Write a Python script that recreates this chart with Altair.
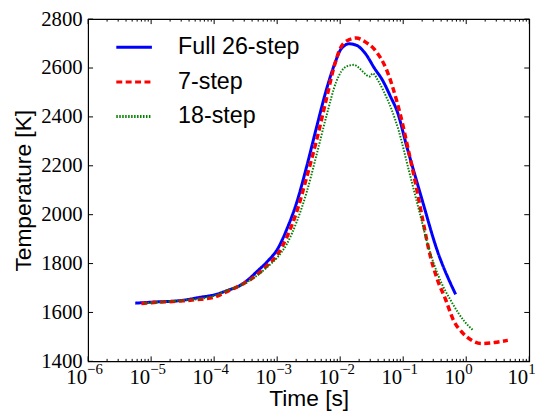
import altair as alt
import pandas as pd

# ---------------- data ----------------
series_names = ["Full 26-step", "7-step", "18-step"]
series_colors = ["#0000ff", "#ff0000", "#008000"]
series_dashes = [[1, 0], [6, 3.5], [1.5, 1.5]]
series_widths = [3, 3.5, 2]

full_t = [5.6e-6, 1e-5, 3e-5, 6e-5, 1e-4, 1.8e-4, 2.4e-4, 5.19e-4, 7.2e-4, 1e-3, 1.43e-3,
          2.05e-3, 2.94e-3, 4.23e-3, 6.07e-3, 8.1e-3, 1.04e-2, 1.39e-2, 1.78e-2,
          2.5e-2, 3.5e-2, 4.7e-2, 6.3e-2, 8.1e-2, 0.115, 0.132, 0.2, 0.34, 0.68]
full_T = [1638, 1642, 1649, 1662, 1672, 1694, 1706, 1776, 1812, 1857, 1942,
          2051, 2197, 2359, 2513, 2614, 2679, 2699, 2694,
          2660, 2599, 2550, 2483, 2420, 2275, 2221, 2060, 1860, 1674]

seven_t = [7e-6, 1e-5, 3e-5, 6e-5, 1e-4, 1.15e-4, 1.8e-4, 2.4e-4, 5.19e-4, 7.2e-4, 1e-3,
           1.43e-3, 2.05e-3, 2.94e-3, 4.23e-3, 6.07e-3, 8.1e-3, 1.04e-2, 1.39e-2,
           1.8e-2, 2.5e-2, 3.5e-2, 5.6e-2, 7.9e-2, 9.1e-2, 0.123, 0.158, 0.2, 0.27,
           0.347, 0.468, 0.631, 0.851, 1.22, 1.74, 2.82, 4.57]
seven_T = [1637, 1640, 1647, 1654, 1662, 1668, 1692, 1706, 1762, 1796, 1835,
           1910, 2013, 2153, 2306, 2476, 2610, 2688, 2716,
           2723, 2707, 2676, 2585, 2465, 2405, 2255, 2125, 1990, 1830,
           1736, 1655, 1567, 1520, 1486, 1473, 1477, 1486]

eighteen_t = [7.9e-6, 3e-5, 6e-5, 1e-4, 1.8e-4, 2.4e-4, 5.19e-4, 7.2e-4, 1e-3, 1.43e-3, 2.05e-3,
              2.94e-3, 4.23e-3, 6.07e-3, 8.7e-3, 1.25e-2, 1.67e-2, 2.0e-2, 2.4e-2,
              2.9e-2, 3.3e-2, 4.0e-2, 4.9e-2, 8.5e-2, 0.123, 0.178, 0.257, 0.363,
              0.589, 0.955, 1.29]
eighteen_T = [1638, 1649, 1656, 1668, 1695, 1706, 1758, 1789, 1824, 1881, 1972,
              2092, 2246, 2405, 2545, 2606, 2613, 2600, 2580,
              2565, 2578, 2548, 2505, 2343, 2181, 2019, 1860, 1749,
              1642, 1561, 1527]

x_major = [1e-6, 1e-5, 1e-4, 1e-3, 1e-2, 1e-1, 1e0, 1e1]
x_exponents = ["\u22126", "\u22125", "\u22124", "\u22123", "\u22122", "\u22121", "0", "1"]
x_minor = [m * d for d in [1e-6, 1e-5, 1e-4, 1e-3, 1e-2, 1e-1, 1e0] for m in range(2, 10)]
y_ticks = [1400, 1600, 1800, 2000, 2200, 2400, 2600, 2800]

# ---------------- tables ----------------
rows = []
for name, ts, Ts in zip(series_names, [full_t, seven_t, eighteen_t], [full_T, seven_T, eighteen_T]):
    for t, T in zip(ts, Ts):
        rows.append({"series": name, "t": t, "T": T})
df = pd.DataFrame(rows)
xmaj_df = pd.DataFrame({"t": x_major, "base": ["10"] * len(x_major), "exp": x_exponents})
xmin_df = pd.DataFrame({"t": x_minor})
ymaj_df = pd.DataFrame({"T": y_ticks})

W, H = 446, 346
MAJ, MIN = 5, 2.5
serif = "Liberation Serif"
sans = "Liberation Sans"

xscale = alt.Scale(type="log", domain=[1e-6, 10], nice=False)
yscale = alt.Scale(domain=[1400, 2800], nice=False, zero=False)
color_scale = alt.Scale(domain=series_names, range=series_colors)
dash_scale = alt.Scale(domain=series_names, range=series_dashes)

legend = alt.Legend(title=None, orient="none", legendX=27, legendY=9, padding=0,
                    symbolType="stroke", symbolSize=1296, symbolStrokeWidth=3,
                    labelFont=sans, labelFontSize=23.5, labelColor="black",
                    labelOffset=25, rowPadding=4, labelLimit=300)

x_axis = alt.Axis(title="Time [s]", labels=False, ticks=False, domain=False, grid=False,
                  titleFont=sans, titleFontSize=23, titleFontWeight="normal",
                  titleColor="black", titlePadding=27)
y_axis = alt.Axis(title="Temperature [K]", values=y_ticks, format="d", ticks=False,
                  domain=False, grid=False, labelFont=serif, labelFontSize=21,
                  labelColor="black", labelPadding=6, titleFont=sans, titleFontSize=23,
                  titleFontWeight="normal", titleColor="black", titlePadding=5)

X = lambda: alt.X("t:Q", scale=xscale, axis=x_axis)
Y = lambda: alt.Y("T:Q", scale=yscale, axis=y_axis)

layers = []
for i, name in enumerate(series_names):
    layer = alt.Chart(df).transform_filter(alt.datum.series == name).mark_line(
        interpolate="monotone", strokeWidth=series_widths[i], clip=True
    ).encode(
        x=X(), y=Y(),
        color=alt.Color("series:N", scale=color_scale, legend=legend),
        strokeDash=alt.StrokeDash("series:N", scale=dash_scale, legend=legend),
    )
    layers.append(layer)

def xtick_layer(data, L):
    b = alt.Chart(data).mark_rule(color="black", strokeWidth=1).encode(
        x=X(), y=alt.value(H), y2=alt.value(H - L))
    t = alt.Chart(data).mark_rule(color="black", strokeWidth=1).encode(
        x=X(), y=alt.value(0), y2=alt.value(L))
    return [b, t]

ytick_l = alt.Chart(ymaj_df).mark_rule(color="black", strokeWidth=1).encode(
    y=Y(), x=alt.value(0), x2=alt.value(MAJ))
ytick_r = alt.Chart(ymaj_df).mark_rule(color="black", strokeWidth=1).encode(
    y=Y(), x=alt.value(W - MAJ), x2=alt.value(W))

lab10 = alt.Chart(xmaj_df).mark_text(align="right", baseline="alphabetic", font=serif,
                                      fontSize=21, color="black", dx=-1).encode(
    x=X(), y=alt.value(H + 23), text="base:N")
labexp = alt.Chart(xmaj_df).mark_text(align="left", baseline="alphabetic", font=serif,
                                       fontSize=15, color="black", dx=-1).encode(
    x=X(), y=alt.value(H + 13), text="exp:N")

chart = alt.layer(
    *layers,
    *xtick_layer(xmaj_df, MAJ), *xtick_layer(xmin_df, MIN),
    ytick_l, ytick_r, lab10, labexp,
).properties(
    width=W, height=H,
    autosize=alt.AutoSizeParams(type="none"),
    padding={"left": 81, "top": 9, "right": 20, "bottom": 52},
).configure_view(stroke="black", strokeWidth=1.2)

chart.save("out.html", embed_options={"renderer": "svg", "actions": False})
